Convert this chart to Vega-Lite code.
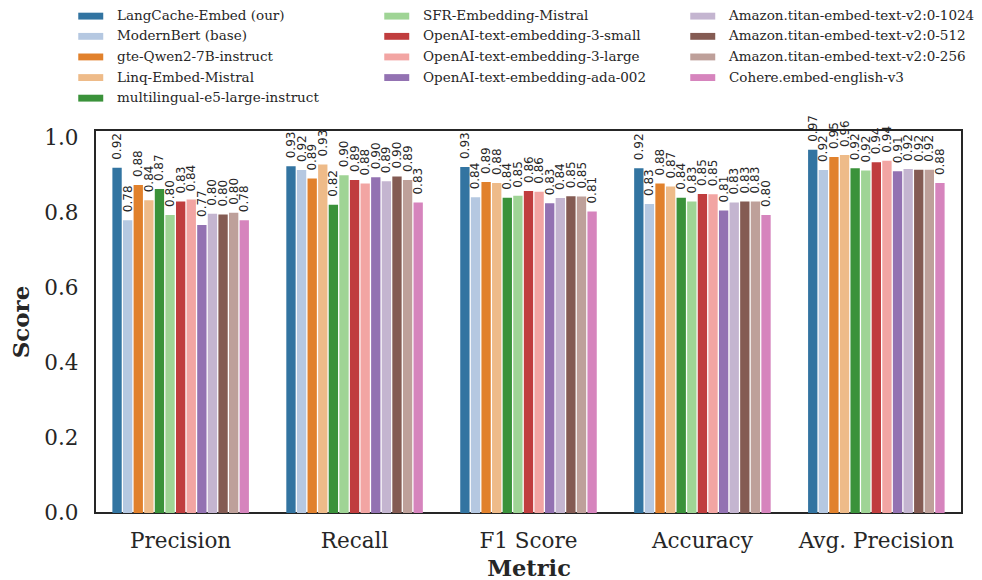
{
  "$schema": "https://vega.github.io/schema/vega-lite/v6.json",
  "autosize": {"type": "none"},
  "padding": {"left": 95, "top": 130, "right": 20, "bottom": 67},
  "width": 867,
  "height": 383,
  "config": {
    "view": {"stroke": "#262626", "strokeWidth": 2},
    "font": "DejaVu Serif"
  },
  "data": {
    "values": [
      {"metric": "Precision", "model": "LangCache-Embed (our)", "score": 0.923},
      {"metric": "Precision", "model": "ModernBert (base)", "score": 0.783},
      {"metric": "Precision", "model": "gte-Qwen2-7B-instruct", "score": 0.877},
      {"metric": "Precision", "model": "Linq-Embed-Mistral", "score": 0.836},
      {"metric": "Precision", "model": "multilingual-e5-large-instruct", "score": 0.866},
      {"metric": "Precision", "model": "SFR-Embedding-Mistral", "score": 0.797},
      {"metric": "Precision", "model": "OpenAI-text-embedding-3-small", "score": 0.833},
      {"metric": "Precision", "model": "OpenAI-text-embedding-3-large", "score": 0.838},
      {"metric": "Precision", "model": "OpenAI-text-embedding-ada-002", "score": 0.770},
      {"metric": "Precision", "model": "Amazon.titan-embed-text-v2:0-1024", "score": 0.800},
      {"metric": "Precision", "model": "Amazon.titan-embed-text-v2:0-512", "score": 0.798},
      {"metric": "Precision", "model": "Amazon.titan-embed-text-v2:0-256", "score": 0.803},
      {"metric": "Precision", "model": "Cohere.embed-english-v3", "score": 0.783},
      {"metric": "Recall", "model": "LangCache-Embed (our)", "score": 0.927},
      {"metric": "Recall", "model": "ModernBert (base)", "score": 0.917},
      {"metric": "Recall", "model": "gte-Qwen2-7B-instruct", "score": 0.894},
      {"metric": "Recall", "model": "Linq-Embed-Mistral", "score": 0.932},
      {"metric": "Recall", "model": "multilingual-e5-large-instruct", "score": 0.824},
      {"metric": "Recall", "model": "SFR-Embedding-Mistral", "score": 0.903},
      {"metric": "Recall", "model": "OpenAI-text-embedding-3-small", "score": 0.890},
      {"metric": "Recall", "model": "OpenAI-text-embedding-3-large", "score": 0.881},
      {"metric": "Recall", "model": "OpenAI-text-embedding-ada-002", "score": 0.898},
      {"metric": "Recall", "model": "Amazon.titan-embed-text-v2:0-1024", "score": 0.887},
      {"metric": "Recall", "model": "Amazon.titan-embed-text-v2:0-512", "score": 0.900},
      {"metric": "Recall", "model": "Amazon.titan-embed-text-v2:0-256", "score": 0.890},
      {"metric": "Recall", "model": "Cohere.embed-english-v3", "score": 0.830},
      {"metric": "F1 Score", "model": "LangCache-Embed (our)", "score": 0.925},
      {"metric": "F1 Score", "model": "ModernBert (base)", "score": 0.844},
      {"metric": "F1 Score", "model": "gte-Qwen2-7B-instruct", "score": 0.885},
      {"metric": "F1 Score", "model": "Linq-Embed-Mistral", "score": 0.882},
      {"metric": "F1 Score", "model": "multilingual-e5-large-instruct", "score": 0.843},
      {"metric": "F1 Score", "model": "SFR-Embedding-Mistral", "score": 0.848},
      {"metric": "F1 Score", "model": "OpenAI-text-embedding-3-small", "score": 0.861},
      {"metric": "F1 Score", "model": "OpenAI-text-embedding-3-large", "score": 0.859},
      {"metric": "F1 Score", "model": "OpenAI-text-embedding-ada-002", "score": 0.828},
      {"metric": "F1 Score", "model": "Amazon.titan-embed-text-v2:0-1024", "score": 0.842},
      {"metric": "F1 Score", "model": "Amazon.titan-embed-text-v2:0-512", "score": 0.847},
      {"metric": "F1 Score", "model": "Amazon.titan-embed-text-v2:0-256", "score": 0.846},
      {"metric": "F1 Score", "model": "Cohere.embed-english-v3", "score": 0.806},
      {"metric": "Accuracy", "model": "LangCache-Embed (our)", "score": 0.922},
      {"metric": "Accuracy", "model": "ModernBert (base)", "score": 0.826},
      {"metric": "Accuracy", "model": "gte-Qwen2-7B-instruct", "score": 0.881},
      {"metric": "Accuracy", "model": "Linq-Embed-Mistral", "score": 0.873},
      {"metric": "Accuracy", "model": "multilingual-e5-large-instruct", "score": 0.843},
      {"metric": "Accuracy", "model": "SFR-Embedding-Mistral", "score": 0.833},
      {"metric": "Accuracy", "model": "OpenAI-text-embedding-3-small", "score": 0.853},
      {"metric": "Accuracy", "model": "OpenAI-text-embedding-3-large", "score": 0.852},
      {"metric": "Accuracy", "model": "OpenAI-text-embedding-ada-002", "score": 0.809},
      {"metric": "Accuracy", "model": "Amazon.titan-embed-text-v2:0-1024", "score": 0.830},
      {"metric": "Accuracy", "model": "Amazon.titan-embed-text-v2:0-512", "score": 0.833},
      {"metric": "Accuracy", "model": "Amazon.titan-embed-text-v2:0-256", "score": 0.833},
      {"metric": "Accuracy", "model": "Cohere.embed-english-v3", "score": 0.797},
      {"metric": "Avg. Precision", "model": "LangCache-Embed (our)", "score": 0.971},
      {"metric": "Avg. Precision", "model": "ModernBert (base)", "score": 0.917},
      {"metric": "Avg. Precision", "model": "gte-Qwen2-7B-instruct", "score": 0.952},
      {"metric": "Avg. Precision", "model": "Linq-Embed-Mistral", "score": 0.957},
      {"metric": "Avg. Precision", "model": "multilingual-e5-large-instruct", "score": 0.922},
      {"metric": "Avg. Precision", "model": "SFR-Embedding-Mistral", "score": 0.916},
      {"metric": "Avg. Precision", "model": "OpenAI-text-embedding-3-small", "score": 0.938},
      {"metric": "Avg. Precision", "model": "OpenAI-text-embedding-3-large", "score": 0.942},
      {"metric": "Avg. Precision", "model": "OpenAI-text-embedding-ada-002", "score": 0.914},
      {"metric": "Avg. Precision", "model": "Amazon.titan-embed-text-v2:0-1024", "score": 0.920},
      {"metric": "Avg. Precision", "model": "Amazon.titan-embed-text-v2:0-512", "score": 0.918},
      {"metric": "Avg. Precision", "model": "Amazon.titan-embed-text-v2:0-256", "score": 0.918},
      {"metric": "Avg. Precision", "model": "Cohere.embed-english-v3", "score": 0.882}
    ]
  },
  "encoding": {
    "x": {
      "field": "metric", "type": "nominal",
      "sort": ["Precision", "Recall", "F1 Score", "Accuracy", "Avg. Precision"],
      "scale": {"paddingInner": 0.215, "paddingOuter": 0.1},
      "axis": {
        "title": "Metric", "labelAngle": 0, "labelFontSize": 21.5, "titleFontSize": 22.5,
        "titleFontWeight": "bold", "labelColor": "#262626", "titleColor": "#262626",
        "ticks": false, "domain": false, "labelPadding": 17, "titlePadding": 6
      }
    },
    "xOffset": {
      "field": "model", "type": "nominal",
      "sort": ["LangCache-Embed (our)", "ModernBert (base)", "gte-Qwen2-7B-instruct", "Linq-Embed-Mistral", "multilingual-e5-large-instruct", "SFR-Embedding-Mistral", "OpenAI-text-embedding-3-small", "OpenAI-text-embedding-3-large", "OpenAI-text-embedding-ada-002", "Amazon.titan-embed-text-v2:0-1024", "Amazon.titan-embed-text-v2:0-512", "Amazon.titan-embed-text-v2:0-256", "Cohere.embed-english-v3"],
      "scale": {"paddingInner": 0.12, "paddingOuter": 0}
    },
    "y": {
      "field": "score", "type": "quantitative",
      "scale": {"domain": [0, 1.024], "nice": false, "zero": true},
      "axis": {
        "title": "Score", "values": [0, 0.2, 0.4, 0.6, 0.8, 1.0], "format": ".1f",
        "labelFontSize": 21.5, "titleFontSize": 23, "titleFontWeight": "bold",
        "labelColor": "#262626", "titleColor": "#262626", "grid": false,
        "ticks": false, "domain": false, "labelPadding": 17, "titlePadding": 10
      }
    }
  },
  "layer": [
    {
      "mark": {"type": "bar"},
      "encoding": {
        "color": {
          "field": "model", "type": "nominal",
          "scale": {
            "domain": ["LangCache-Embed (our)", "SFR-Embedding-Mistral", "Amazon.titan-embed-text-v2:0-1024", "ModernBert (base)", "OpenAI-text-embedding-3-small", "Amazon.titan-embed-text-v2:0-512", "gte-Qwen2-7B-instruct", "OpenAI-text-embedding-3-large", "Amazon.titan-embed-text-v2:0-256", "Linq-Embed-Mistral", "OpenAI-text-embedding-ada-002", "Cohere.embed-english-v3", "multilingual-e5-large-instruct"],
            "range": ["#3274a1", "#9fd495", "#c4b5d0", "#b5c8e1", "#c03d3e", "#845b53", "#e1812c", "#f2a5a3", "#bea09a", "#eebb89", "#9372b2", "#d684bd", "#3a923a"]
          },
          "legend": {
            "orient": "none", "legendX": -11, "legendY": -121, "direction": "horizontal",
            "columns": 3, "title": null, "labelFontSize": 13.5, "labelColor": "#262626",
            "labelFont": "DejaVu Serif", "labelLimit": 400, "gridAlign": "all",
            "symbolType": "M-2,-0.55H2V0.55H-2Z", "symbolSize": 156, "symbolStrokeWidth": 0,
            "labelOffset": 19.5, "rowPadding": 5.6, "columnPadding": 21
          }
        }
      }
    },
    {
      "mark": {"type": "text", "angle": 270, "align": "left", "baseline": "middle", "dx": 8, "font": "DejaVu Sans", "fontSize": 12, "color": "#262626"},
      "encoding": {
        "text": {"field": "score", "type": "quantitative", "format": ".2f"}
      }
    }
  ]
}
